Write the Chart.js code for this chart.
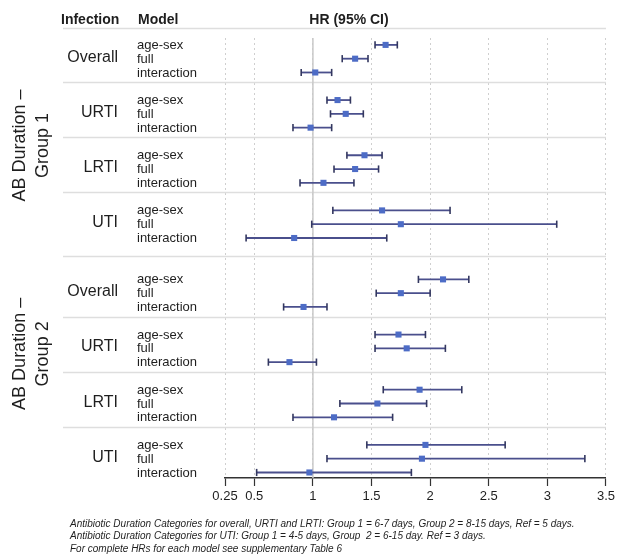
<!DOCTYPE html>
<html>
<head>
<meta charset="utf-8">
<script src="https://cdn.jsdelivr.net/npm/chart.js@4.4.1/dist/chart.umd.min.js"></script>
<style>
  html, body { margin: 0; padding: 0; background: #fff; }
  #wrap { width: 618px; height: 556px; position: relative; }
</style>
</head>
<body>
<div id="wrap"><canvas id="forest"></canvas></div>
<script>
// chart values
var groups = [["AB Duration \u2013", "Group 1"], ["AB Duration \u2013", "Group 2"]]
var infections = ["Overall", "URTI", "LRTI", "UTI"]
var models = ["age-sex", "full", "interaction"]

// group 1 : overall, URTI, LRTI, UTI  x  age-sex, full, interaction
var hr1 = [1.62, 1.36, 1.02, 1.21, 1.28, 0.98, 1.44, 1.36, 1.09, 1.59, 1.75, 0.84]
var lo1 = [1.53, 1.25, 0.90, 1.12, 1.15, 0.83, 1.29, 1.18, 0.89, 1.17, 0.99, 0.43]
var hi1 = [1.72, 1.47, 1.16, 1.32, 1.43, 1.16, 1.59, 1.56, 1.35, 2.17, 3.08, 1.63]
// group 2
var hr2 = [2.11, 1.75, 0.92, 1.73, 1.80, 0.80, 1.91, 1.55, 1.18, 1.96, 1.93, 0.97]
var lo2 = [1.90, 1.54, 0.75, 1.53, 1.53, 0.62, 1.60, 1.23, 0.83, 1.46, 1.12, 0.52]
var hi2 = [2.33, 2.00, 1.12, 1.96, 2.13, 1.03, 2.27, 1.97, 1.68, 2.64, 3.32, 1.84]

var xTicks = [0.25, 0.5, 1, 1.5, 2, 2.5, 3, 3.5]
var refValue = 1

var footnotes = [
  "Antibiotic Duration Categories for overall, URTI and LRTI: Group 1 = 6-7 days, Group 2 = 8-15 days, Ref = 5 days.",
  "Antibiotic Duration Categories for UTI: Group 1 = 4-5 days, Group  2 = 6-15 day. Ref = 3 days.",
  "For complete HRs for each model see supplementary Table 6"
]

// row layout (in row units on the y scale)
var GROUP_STEP = 17
var BLOCK_STEP = 4
function rowOf(g, i) {
  return g * GROUP_STEP + Math.floor(i / models.length) * BLOCK_STEP + (i % models.length)
}

var hrs = [hr1, hr2], los = [lo1, lo2], his = [hi1, hi2]
var pointData = []
var ciSets = []
for (var g = 0; g < 2; g++) {
  for (var i = 0; i < hrs[g].length; i++) {
    var r = rowOf(g, i)
    pointData.push({x: hrs[g][i], y: r})
    ciSets.push({
      type: "line",
      data: [{x: los[g][i], y: r}, {x: his[g][i], y: r}],
      borderColor: "#4a4f8c",
      borderWidth: 1.8,
      pointStyle: "line",
      rotation: 90,
      pointRadius: 3.6,
      pointBorderColor: "#33375f",
      pointBorderWidth: 1.6,
      pointBackgroundColor: "#33375f"
    })
  }
}

var Y_MIN = -0.5, Y_MAX = 31.4

var datasets = [{
  type: "scatter",
  data: pointData,
  pointStyle: "rect",
  pointRadius: 4.3,
  backgroundColor: "#4d6cc6",
  borderColor: "#4d6cc6",
  borderWidth: 0
}].concat(ciSets).concat([{
  type: "line",
  data: [{x: refValue, y: Y_MIN}, {x: refValue, y: Y_MAX}],
  borderColor: "#c9c9c9",
  borderWidth: 1.5,
  pointRadius: 0
}])

var textPlugin = {
  id: "forestText",
  beforeDatasetsDraw: function(chart) {
    var ctx = chart.ctx, y = chart.scales.y, area = chart.chartArea
    ctx.save()
    ctx.strokeStyle = "#dedede"
    ctx.lineWidth = 1.5
    var seps = [-1.23]
    for (var g = 0; g < 2; g++) {
      for (var b = 0; b < infections.length; b++) {
        var s = g * GROUP_STEP + b * BLOCK_STEP + 2.7
        if (g == 0 && b == infections.length - 1) s = 15.3
        if (g == 1 && b == infections.length - 1) continue
        seps.push(s)
      }
    }
    seps.forEach(function(s) {
      var py = Math.round(y.getPixelForValue(s)) + 0.5
      ctx.beginPath()
      ctx.moveTo(63, py)
      ctx.lineTo(area.right, py)
      ctx.stroke()
    })
    ctx.restore()
  },
  afterDraw: function(chart) {
    var ctx = chart.ctx, y = chart.scales.y
    ctx.save()
    ctx.fillStyle = "#1e1e1e"
    ctx.textBaseline = "middle"
    ctx.font = "bold 14px 'Liberation Sans', Arial, sans-serif"
    ctx.textAlign = "left"
    ctx.fillText("Infection", 61, 20)
    ctx.fillText("Model", 138, 20)
    ctx.textAlign = "center"
    ctx.fillText("HR (95% CI)", 349, 20)

    for (var g = 0; g < 2; g++) {
      for (var b = 0; b < infections.length; b++) {
        ctx.font = "16px 'Liberation Sans', Arial, sans-serif"
        ctx.textAlign = "right"
        ctx.fillText(infections[b], 118, y.getPixelForValue(g * GROUP_STEP + b * BLOCK_STEP + 0.9))
        ctx.font = "13px 'Liberation Sans', Arial, sans-serif"
        ctx.textAlign = "left"
        for (var m = 0; m < models.length; m++) {
          ctx.fillText(models[m], 137, y.getPixelForValue(g * GROUP_STEP + b * BLOCK_STEP + m) + 0.5)
        }
      }
    }

    // rotated group labels
    var centres = [7.3, 22.4]
    ctx.font = "18px 'Liberation Sans', Arial, sans-serif"
    ctx.textAlign = "center"
    for (var g = 0; g < groups.length; g++) {
      var cy = y.getPixelForValue(centres[g])
      ctx.save()
      ctx.translate(20, cy)
      ctx.rotate(-Math.PI / 2)
      ctx.fillText(groups[g][0], 0, 0)
      ctx.fillText(groups[g][1], 0, 23)
      ctx.restore()
    }

    ctx.font = "italic 10px 'Liberation Sans', Arial, sans-serif"
    ctx.textAlign = "left"
    for (var k = 0; k < footnotes.length; k++) {
      ctx.fillText(footnotes[k], 70, 524 + k * 12.5)
    }
    ctx.restore()
  }
}

new Chart(document.getElementById("forest"), {
  type: "scatter",
  data: {datasets: datasets},
  plugins: [textPlugin],
  options: {
    responsive: true,
    maintainAspectRatio: false,
    animation: false,
    events: [],
    layout: {padding: {left: 225, right: 11, top: 38, bottom: 48}},
    plugins: {legend: {display: false}, tooltip: {enabled: false}},
    scales: {
      x: {
        type: "linear",
        min: xTicks[0],
        max: xTicks[xTicks.length - 1],
        afterBuildTicks: function(s) { s.ticks = xTicks.map(function(v) { return {value: v} }) },
        afterFit: function(s) { s.height = 30 },
        ticks: {
          autoSkip: false,
          maxRotation: 0,
          padding: 3,
          color: "#1e1e1e",
          font: {family: "'Liberation Sans', Arial, sans-serif", size: 13},
          callback: function(v) { return String(v) }
        },
        grid: {
          color: "#cfcfcf",
          lineWidth: 1,
          tickColor: "#333",
          tickLength: 8,
          tickWidth: 1.2,
          tickBorderDash: []
        },
        border: {display: true, color: "#333", width: 1.5, dash: [2, 3]}
      },
      y: {
        type: "linear",
        min: Y_MIN,
        max: Y_MAX,
        reverse: true,
        display: false
      }
    }
  }
})
</script>
</body>
</html>
